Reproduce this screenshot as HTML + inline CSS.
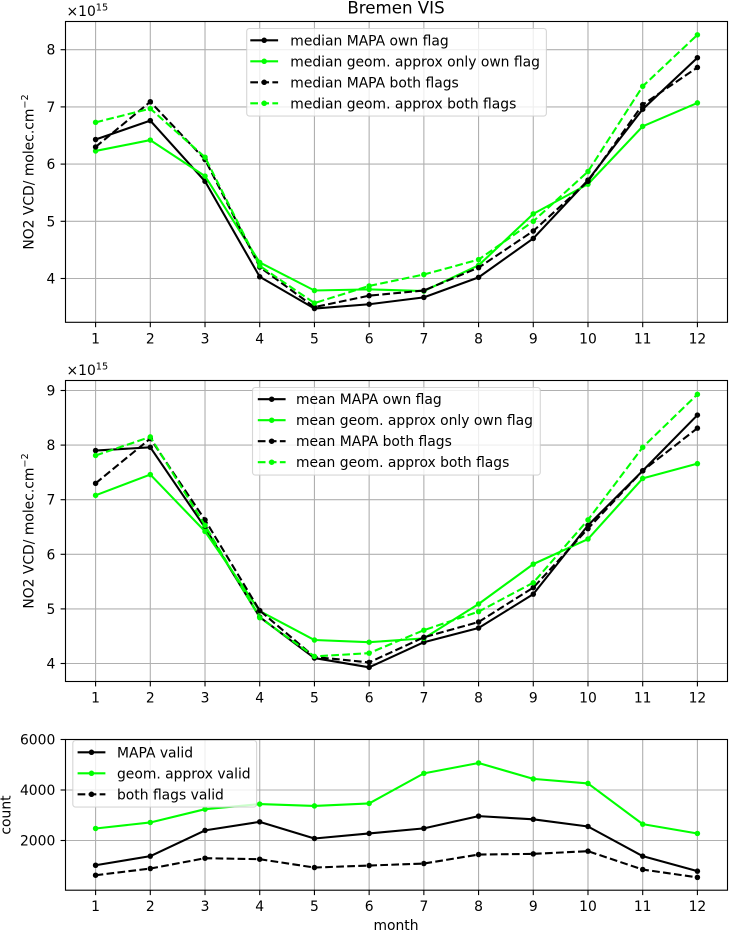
<!DOCTYPE html>
<html lang="en">
<head>
<meta charset="utf-8">
<title>Bremen VIS</title>
<style>
html,body{margin:0;padding:0;background:#fff;}
svg{display:block;font-family:"DejaVu Sans","Liberation Sans",sans-serif;filter:blur(0.3px);}
</style>
</head>
<body>
<svg id="chart" xmlns="http://www.w3.org/2000/svg" width="729" height="930" viewBox="0 0 729 930">
<defs>
<clipPath id="clip-top"><rect x="65.5" y="21.5" width="662" height="300.8"/></clipPath>
<clipPath id="clip-mid"><rect x="65.5" y="380.5" width="662" height="301"/></clipPath>
<clipPath id="clip-bot"><rect x="65.5" y="739.5" width="662" height="150.7"/></clipPath>
</defs>
<rect x="0" y="0" width="729" height="930" fill="#fff"/>
</svg>
<script>
// ---- data ----
const months = [1,2,3,4,5,6,7,8,9,10,11,12];
const monthTickLabels = ['1','2','3','4','5','6','7','8','9','10','11','12'];

const medianTicks = [4,5,6,7,8];
const meanTicks = [4,5,6,7,8,9];
const countTicks = [2000,4000,6000];

const medianMapaOwn  = [6.43,6.76,5.70,4.03,3.475,3.55,3.67,4.02,4.70,5.72,6.96,7.86];
const medianGeomOwn  = [6.23,6.42,5.79,4.28,3.79,3.81,3.78,4.23,5.13,5.65,6.66,7.07];
const medianMapaBoth = [6.30,7.09,6.08,4.20,3.50,3.70,3.79,4.19,4.83,5.70,7.04,7.69];
const medianGeomBoth = [6.73,6.97,6.12,4.22,3.57,3.87,4.07,4.33,5.00,5.87,7.36,8.26];

const meanMapaOwn  = [7.90,7.96,6.49,4.85,4.10,3.93,4.39,4.65,5.27,6.53,7.53,8.55];
const meanGeomOwn  = [7.08,7.46,6.42,4.96,4.43,4.39,4.46,5.09,5.82,6.28,7.39,7.66];
const meanMapaBoth = [7.30,8.12,6.63,4.97,4.12,4.02,4.48,4.76,5.39,6.47,7.53,8.31];
const meanGeomBoth = [7.81,8.15,6.53,4.84,4.13,4.19,4.61,4.95,5.48,6.63,7.96,8.93];

const countMapa = [1020,1380,2400,2740,2080,2280,2480,2965,2840,2555,1380,785];
const countGeom = [2476,2714,3240,3442,3370,3468,4659,5070,4440,4260,2648,2278];
const countBoth = [625,889,1299,1259,929,1008,1087,1444,1470,1577,849,540];

const medianLabels = ['median MAPA own flag','median geom. approx only own flag','median MAPA both flags','median geom. approx both flags'];
const meanLabels = ['mean MAPA own flag','mean geom. approx only own flag','mean MAPA both flags','mean geom. approx both flags'];
const countLabels = ['MAPA valid','geom. approx valid','both flags valid'];

// ---- helpers ----
const NS = 'http://www.w3.org/2000/svg';
const svg = document.getElementById('chart');
const FS = 13.89;
const GREEN = '#00ff00';
const BLACK = '#000000';
const DASH = '7.7 3.33';

function mk(parent, tag, attrs, text) {
  const el = document.createElementNS(NS, tag);
  for (const k in attrs) el.setAttribute(k, attrs[k]);
  if (text !== undefined) el.textContent = text;
  parent.appendChild(el);
  return el;
}

function linear(d0, d1, r0, r1) {
  return function (v) { return r0 + (v - d0) * (r1 - r0) / (d1 - d0); };
}

const L = 65.5, R = 727.5;
const xScale = linear(0.45, 12.55, L, R);

function drawSeries(group, scaleY, values, color, dashed, clipId, name) {
  const g = mk(group, 'g', {'clip-path': 'url(#' + clipId + ')'});
  
  
  const pts = values.map(function (v, i) { return xScale(months[i]).toFixed(2) + ',' + scaleY(v).toFixed(2); }).join(' ');
  const line = mk(g, 'polyline', {points: pts, fill: 'none', stroke: color, 'stroke-width': 2.08, 'stroke-linejoin': 'round'});
  if (dashed) line.setAttribute('stroke-dasharray', DASH);
  
  
  values.forEach(function (v, i) {
    const c = mk(g, 'circle', {cx: xScale(months[i]).toFixed(2), cy: scaleY(v).toFixed(2), r: 2.75, fill: color});
    
    
  });
}

function drawAxes(cfg) {
  const g = mk(svg, 'g', {});
  
  
  const sy = cfg.scaleY;

  // grid
  const grid = mk(g, 'g', {stroke: '#b0b0b0', 'stroke-width': 1.11});
  
  
  months.forEach(function (m) {
    mk(grid, 'line', {x1: xScale(m), x2: xScale(m), y1: cfg.top, y2: cfg.bottom});
  });
  cfg.yTicks.forEach(function (t) {
    mk(grid, 'line', {x1: L, x2: R, y1: sy(t), y2: sy(t)});
  });

  // series
  cfg.series.forEach(function (s) {
    drawSeries(g, sy, s.values, s.color, s.dashed, cfg.clip, s.name);
  });

  // spines
  const frame = mk(g, 'rect', {x: L, y: cfg.top, width: R - L, height: cfg.bottom - cfg.top, fill: 'none', stroke: '#000', 'stroke-width': 1.11});
  
  

  // x ticks
  const xAxis = mk(g, 'g', {});
  
  
  months.forEach(function (m, i) {
    mk(xAxis, 'line', {x1: xScale(m), x2: xScale(m), y1: cfg.bottom, y2: cfg.bottom + 4.9, stroke: '#000', 'stroke-width': 1.11});
    const t = mk(xAxis, 'text', {x: xScale(m), y: cfg.bottom + 21, 'font-size': FS, 'text-anchor': 'middle', fill: '#000'}, monthTickLabels[i]);
    
    
  });

  // y ticks
  const yAxis = mk(g, 'g', {});
  
  
  cfg.yTicks.forEach(function (v) {
    mk(yAxis, 'line', {x1: L - 4.9, x2: L, y1: sy(v), y2: sy(v), stroke: '#000', 'stroke-width': 1.11});
    const t = mk(yAxis, 'text', {x: 55.3, y: sy(v) + 5, 'font-size': FS, 'text-anchor': 'end', fill: '#000'}, String(v));
    
    
  });

  // y axis title
  const yt = mk(g, 'text', {transform: 'translate(' + cfg.ylabelX + ' ' + cfg.ylabelY + ') rotate(-90)', 'font-size': FS, 'text-anchor': 'middle', fill: '#000'});
  
  
  yt.appendChild(document.createTextNode(cfg.ylabel));
  if (cfg.ylabelSup) {
    mk(yt, 'tspan', {'font-size': 9.7, dy: -5.5}, cfg.ylabelSup);
  }

  // offset text
  if (cfg.offsetY) {
    const ot = mk(g, 'text', {x: 66.5, y: cfg.offsetY, 'font-size': FS, fill: '#000'}, '×10');
    
    
    mk(ot, 'tspan', {'font-size': 9.7, dy: -5.5}, '15');
  }

  // legend
  const leg = mk(g, 'g', {});
  
  
  const b = cfg.legend;
  const box = mk(leg, 'rect', {x: b.x, y: b.y, width: b.w, height: b.h, rx: 2.8, ry: 2.8, fill: '#fff', 'fill-opacity': 0.8, stroke: '#cccccc', 'stroke-opacity': 0.8, 'stroke-width': 1.11});
  
  
  cfg.series.forEach(function (s, i) {
    const row = b.firstRow + i * 21;
    const entry = mk(leg, 'g', {});
    
    
    const h = mk(entry, 'line', {x1: b.hx, x2: b.hx + 27.8, y1: row, y2: row, stroke: s.color, 'stroke-width': 2.08});
    if (s.dashed) h.setAttribute('stroke-dasharray', DASH);
    mk(entry, 'circle', {cx: b.hx + 13.9, cy: row, r: 2.75, fill: s.color});
    mk(entry, 'text', {x: b.tx, y: row + 5, 'font-size': FS, fill: '#000'}, cfg.labels[i]);
  });
}

// ---- panels ----
drawAxes({
  name: 'median-panel', top: 21.5, bottom: 322.3, clip: 'clip-top',
  scaleY: linear(8, 4, 49.7, 278.5), yTicks: medianTicks,
  ylabel: 'NO2 VCD/ molec.cm', ylabelSup: '−2', ylabelX: 33.5, ylabelY: 172,
  offsetY: 16,
  labels: medianLabels,
  legend: {x: 246.7, y: 28.5, w: 299.7, h: 87.6, firstRow: 40.3, hx: 250.3, tx: 290.3},
  series: [
    {values: medianMapaOwn, color: BLACK, dashed: false, name: 'median-mapa-own-flag'},
    {values: medianGeomOwn, color: GREEN, dashed: false, name: 'median-geom-own-flag'},
    {values: medianMapaBoth, color: BLACK, dashed: true, name: 'median-mapa-both-flags'},
    {values: medianGeomBoth, color: GREEN, dashed: true, name: 'median-geom-both-flags'}
  ]
});

drawAxes({
  name: 'mean-panel', top: 380.5, bottom: 681.5, clip: 'clip-mid',
  scaleY: linear(9, 4, 390.5, 663.5), yTicks: meanTicks,
  ylabel: 'NO2 VCD/ molec.cm', ylabelSup: '−2', ylabelX: 33.5, ylabelY: 531,
  offsetY: 375,
  labels: meanLabels,
  legend: {x: 252.5, y: 387.5, w: 287.8, h: 87.6, firstRow: 399.2, hx: 257.8, tx: 296},
  series: [
    {values: meanMapaOwn, color: BLACK, dashed: false, name: 'mean-mapa-own-flag'},
    {values: meanGeomOwn, color: GREEN, dashed: false, name: 'mean-geom-own-flag'},
    {values: meanMapaBoth, color: BLACK, dashed: true, name: 'mean-mapa-both-flags'},
    {values: meanGeomBoth, color: GREEN, dashed: true, name: 'mean-geom-both-flags'}
  ]
});

drawAxes({
  name: 'count-panel', top: 739.5, bottom: 890.2, clip: 'clip-bot',
  scaleY: linear(6000, 2000, 739.5, 840.5), yTicks: countTicks,
  ylabel: 'count', ylabelX: 10.5, ylabelY: 815,
  labels: countLabels,
  legend: {x: 72.8, y: 740.5, w: 183.8, h: 66.6, firstRow: 752.3, hx: 77.6, tx: 117},
  series: [
    {values: countMapa, color: BLACK, dashed: false, name: 'count-mapa-valid'},
    {values: countGeom, color: GREEN, dashed: false, name: 'count-geom-valid'},
    {values: countBoth, color: BLACK, dashed: true, name: 'count-both-flags-valid'}
  ]
});

// ---- title and shared x label ----
const title = mk(svg, 'text', {x: 396, y: 13.5, 'font-size': 16.67, 'text-anchor': 'middle', fill: '#000'}, 'Bremen VIS');



const xTitle = mk(svg, 'text', {x: 396, y: 930, 'font-size': FS, 'text-anchor': 'middle', fill: '#000'}, 'month');


</script>
</body>
</html>
